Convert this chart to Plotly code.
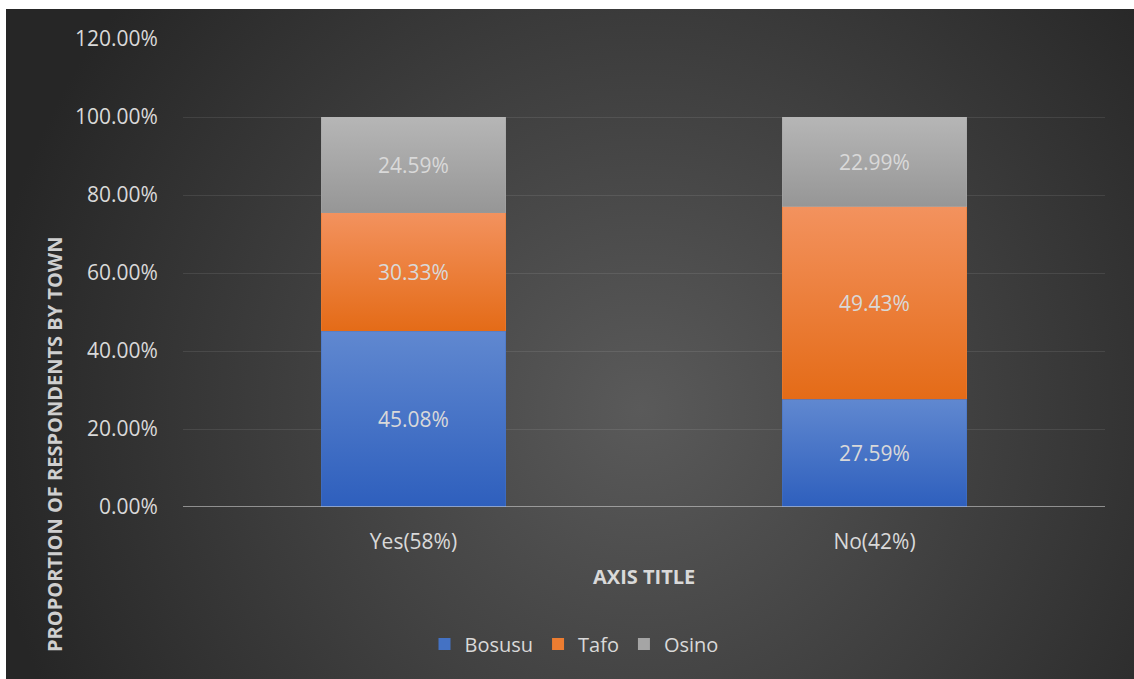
import base64
import plotly.graph_objects as go

# Survey answers by town (percent of respondents in each answer group)
categories = ["Yes(58%)", "No(42%)"]
bosusu = [45.08, 27.59]
tafo = [30.33, 49.43]
osino = [24.59, 22.99]

series = [
    ("Bosusu", bosusu, "#4472c4", ("#6088d0", "#2e5fbd")),
    ("Tafo", tafo, "#ed7d31", ("#f3925e", "#e46b17")),
    ("Osino", osino, "#a5a5a5", ("#b6b6b6", "#969696")),
]

W, H = 1134, 679
PLOT_L, PLOT_R, PLOT_T, PLOT_B = 183, 1105, 39, 507
BAR_W = 0.4
FONT = "Open Sans"
TEXT = "#d9d9d9"


def svg_uri(svg):
    return "data:image/svg+xml;base64," + base64.b64encode(svg.encode()).decode()


def vertical_gradient(top, bottom):
    return svg_uri(
        '<svg xmlns="http://www.w3.org/2000/svg" width="100" height="100" '
        'preserveAspectRatio="none" viewBox="0 0 100 100">'
        '<defs><linearGradient id="g" x1="0" y1="0" x2="0" y2="1">'
        f'<stop offset="0" stop-color="{top}"/><stop offset="1" stop-color="{bottom}"/>'
        '</linearGradient></defs><rect width="100" height="100" fill="url(#g)"/></svg>'
    )


# dark chart area with a soft radial highlight
bg_w, bg_h = 1128, 670
background = svg_uri(
    f'<svg xmlns="http://www.w3.org/2000/svg" width="{bg_w}" height="{bg_h}" '
    f'preserveAspectRatio="none" viewBox="0 0 {bg_w} {bg_h}">'
    '<defs><radialGradient id="r" gradientUnits="userSpaceOnUse" cx="635" cy="400" r="660">'
    '<stop offset="0" stop-color="#5a5a5a"/><stop offset="1" stop-color="#262626"/>'
    '</radialGradient></defs>'
    f'<rect width="{bg_w}" height="{bg_h}" fill="url(#r)"/></svg>'
)

pw = PLOT_R - PLOT_L
ph = PLOT_B - PLOT_T


def px_to_paper_x(px):
    return (px - PLOT_L) / pw


def px_to_paper_y(py):
    return (PLOT_B - py) / ph


fig = go.Figure()
images = [
    dict(
        source=background, xref="paper", yref="paper",
        x=px_to_paper_x(6), y=px_to_paper_y(9),
        sizex=(W - 6) / pw, sizey=(H - 9) / ph,
        xanchor="left", yanchor="top", sizing="stretch", layer="below",
    )
]
annotations = []

base = [0.0] * len(categories)
for name, vals, color, (top, bottom) in series:
    fig.add_trace(go.Bar(
        name=name, x=categories, y=vals, width=BAR_W,
        marker=dict(color=color, line=dict(width=0)),
        hovertemplate="%{x}<br>" + name + ": %{y:.2f}%<extra></extra>",
    ))
    grad = vertical_gradient(top, bottom)
    for i, v in enumerate(vals):
        images.append(dict(
            source=grad, xref="x", yref="y",
            x=i - BAR_W / 2, y=base[i] + v, sizex=BAR_W, sizey=v,
            xanchor="left", yanchor="top", sizing="stretch", layer="above",
        ))
        annotations.append(dict(
            x=i, y=base[i] + v / 2, xref="x", yref="y", showarrow=False,
            xanchor="center", yanchor="middle",
            text=f"{v:.2f}%", font=dict(family=FONT, size=21, color=TEXT),
        ))
        base[i] += v

# axis titles
annotations.append(dict(
    x=0.5, y=px_to_paper_y(576), xref="paper", yref="paper", showarrow=False,
    xanchor="center", yanchor="middle",
    text="<b>AXIS TITLE</b>", font=dict(family=FONT, size=20, color=TEXT),
))
annotations.append(dict(
    x=px_to_paper_x(54), y=px_to_paper_y(445), xref="paper", yref="paper",
    showarrow=False, textangle=-90, xanchor="center", yanchor="middle",
    text="<b>PROPORTION OF RESPONDENTS BY TOWN</b>",
    font=dict(family=FONT, size=20, color="#cfcfcf"),
))

fig.update_layout(
    width=W, height=H,
    margin=dict(l=PLOT_L, r=W - PLOT_R, t=PLOT_T, b=H - PLOT_B),
    paper_bgcolor="white", plot_bgcolor="rgba(0,0,0,0)",
    barmode="stack", bargap=0.6,
    font=dict(family=FONT, size=21, color=TEXT),
    images=images, annotations=annotations,
    showlegend=True,
    legend=dict(
        orientation="h", x=px_to_paper_x(574), xanchor="center",
        y=px_to_paper_y(644), yanchor="middle",
        traceorder="normal", font=dict(family=FONT, size=20, color=TEXT),
        bgcolor="rgba(0,0,0,0)", itemwidth=30,
    ),
    shapes=[dict(
        type="line", xref="paper", yref="y", x0=0, x1=1, y0=0, y1=0,
        line=dict(color="rgba(217,217,217,0.55)", width=2), layer="above",
    )],
)
fig.update_yaxes(
    range=[0, 120], dtick=20, tickformat=".2f", ticksuffix="%",
    showgrid=True, gridcolor="rgba(255,255,255,0.09)", gridwidth=1,
    zeroline=False, showline=False,
    ticks="outside", ticklen=20, tickcolor="rgba(0,0,0,0)",
    tickfont=dict(family=FONT, size=21, color=TEXT),
)
fig.update_xaxes(
    showgrid=False, zeroline=False, showline=False,
    ticks="outside", ticklen=16, tickcolor="rgba(0,0,0,0)",
    tickfont=dict(family=FONT, size=21, color=TEXT),
)

fig.write_html("out.html")
